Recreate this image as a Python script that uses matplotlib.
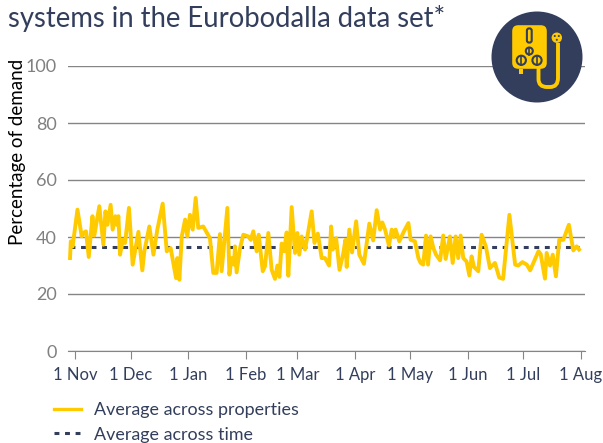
# Percentage of demand, Eurobodalla data set
import matplotlib
matplotlib.use('Agg')
import matplotlib.pyplot as plt
from matplotlib.patches import Circle, FancyBboxPatch, PathPatch, Rectangle
from matplotlib.path import Path

## days since 1 Nov and the value read at each turning point of the line
days = [-2.7, -2.3, -1.3, 1.3, 3.6, 4.5, 5.9, 7.4, 9.4, 10.4, 13.1, 15.3, 16.4, 17.5, 19.2, 20.3, 21.8, 22.5, 23.4, 24.3,
        25.7, 27, 29.1, 31.1, 34.2, 36.3, 37.4, 40.1, 42.3, 44.4, 47.3, 49.5, 51.6, 54.5, 55.2, 56.3, 57.6, 59.4, 60.6, 62,
        63.5, 65.1, 66.5, 69.2, 72.8, 74.6, 76.4, 78.2, 79.1, 82.2, 83.3, 84.5, 85.8, 86.3, 87.2, 89, 90.8, 93.5, 94.8, 96.2,
        98, 99.1, 101.3, 102.5, 104.3, 106.1, 107.9, 109.2, 110.3, 111.5, 112.8, 114.2, 115.1, 116.9, 118.7, 120, 121, 122.3, 124.1, 125.4,
        127.7, 129.2, 131, 133.1, 134.9, 137.1, 138.2, 139.1, 140.9, 142.7, 144.8, 145.9, 146.6, 148, 149.5, 151.7, 153.4, 155.9, 158.8, 160.9,
        162.8, 164.6, 165.8, 167.3, 169.4, 170.9, 172, 173, 175, 177.5, 179.9, 181.1, 183.4, 185.3, 186.5, 187.9, 189.4, 190.5, 191.9, 193.4,
        194.8, 197, 198.7, 200, 202.3, 203.8, 205.4, 206.8, 208.1, 209.5, 211.3, 212.8, 214, 215.3, 217.6, 219.4, 221.7, 223.9, 226.6, 228.9,
        231, 234.4, 237.5, 239.2, 241.4, 243.8, 245.6, 250.1, 251.3, 253.6, 254.5, 256.3, 257.8, 259.5, 261.3, 263.5, 266.5, 268.9, 270.7, 272]
values = [32.6, 38.5, 36.7, 49.6, 40.2, 41.4, 42, 33, 47.3, 40.5, 50.8, 37.3, 49, 44.3, 51.3, 42.6, 47.3, 44.3, 47.3, 33.8,
          39, 37.9, 50.2, 30.3, 41.8, 28.3, 35, 43.7, 33.8, 42.6, 51.7, 35, 36.1, 25.6, 32.6, 25, 40.2, 46.1, 40.2, 47.8,
          42.6, 53.7, 43.2, 43.7, 39.6, 27.4, 27.4, 41, 28, 50.2, 26.8, 32.6, 30.3, 36.7, 27.6, 36, 40.8, 40.2, 39, 42,
          35, 40.8, 28, 29.7, 41.4, 28.5, 25.3, 30, 26, 37.7, 35, 41.6, 26.4, 50.5, 34.4, 41.4, 33.8, 40.2, 35.6, 40.2,
          49, 37.9, 41.2, 32.6, 32.6, 30, 43.7, 35.6, 39.6, 28.5, 34.4, 39, 29.5, 42.6, 34.6, 45.5, 33.8, 30.6, 44.7, 38.8,
          49.4, 42.6, 45.1, 42.6, 37, 42.6, 40, 42.6, 38.5, 42, 44.9, 39, 38.5, 32.6, 30.9, 30.3, 40.5, 30.3, 40.2, 36.1,
          33.8, 31.8, 40.5, 32.3, 40.2, 30.9, 40.2, 32.6, 40.5, 32.6, 31.4, 26.5, 33.2, 29.5, 28, 40.8, 36.7, 29.1, 30.9, 25.8,
          25.3, 47.8, 30.3, 30, 31.2, 30.3, 28.3, 35, 34, 25.4, 34.4, 30, 33.8, 26.2, 39, 39, 44.3, 35.3, 36.7, 35.6]
time_average = 36.5

month_days = [0, 30, 61, 92, 120, 151, 181, 212, 242, 273]
month_labels = ['1 Nov', '1 Dec', '1 Jan', '1 Feb', '1 Mar', '1 Apr', '1 May', '1 Jun', '1 Jul', '1 Aug']
y_ticks = [0, 20, 40, 60, 80, 100]

NAVY = '#323E5C'
YELLOW = '#FFCB00'
GREY = '#858585'
W, H = 603, 443

plt.rcParams['font.family'] = ['Lato', 'DejaVu Sans']

fig = plt.figure(figsize=(W / 100, H / 100), dpi=100)
ax = fig.add_axes([68 / W, 1 - 351 / H, (585 - 68) / W, (351 - 66) / H])

ax.plot(days, values, color=YELLOW, lw=2.8, solid_joinstyle='round', label='Average across properties', zorder=3)
ax.plot([days[0], days[-1]], [time_average, time_average], color=NAVY, lw=2.2, ls=(0, (1.6, 1.85)),
        label='Average across time', zorder=2)

ax.set_xlim(-3.8, 275.2)
ax.set_ylim(0, 100)
ax.set_xticks(month_days)
ax.set_xticklabels(month_labels)
ax.set_yticks(y_ticks)
ax.grid(axis='y', color=GREY, lw=1)
ax.set_axisbelow(True)
for side in ['top', 'right', 'left']:
    ax.spines[side].set_visible(False)
ax.spines['bottom'].set_color(GREY)
ax.tick_params(axis='x', length=6, color=GREY, labelsize=12, labelcolor=NAVY, pad=5.5)
ax.tick_params(axis='y', length=0, labelsize=13, labelcolor='#808080', pad=8)
ax.set_ylabel('Percentage of demand', fontsize=13.5, color='black')
ax.yaxis.set_label_coords(-42 / 517, 0.70)

leg = ax.legend(loc='upper left', bbox_to_anchor=(-14 / 517, -0.18), frameon=False, fontsize=12.9, labelcolor=NAVY,
                handlelength=1.5, handletextpad=0.72, labelspacing=0.47, borderpad=0, borderaxespad=0)
leg.get_lines()[0].set_linewidth(2.4)

fig.text(8 / W, 1 - 19 / H, 'systems in the Eurobodalla data set*', fontsize=19.8, color=NAVY, va='center', ha='left')

## icon in the corner, drawn in pixel coordinates
icon = fig.add_axes([0, 0, 1, 1], zorder=5)
icon.set_xlim(0, W)
icon.set_ylim(H, 0)
icon.axis('off')
icon.add_patch(Circle((537, 57), 45.5, fc=NAVY, ec='none'))
icon.add_patch(FancyBboxPatch((515, 28), 29, 38, boxstyle='round,pad=2.8,rounding_size=6', fc=YELLOW, ec='none'))
icon.add_patch(Rectangle((519, 69), 3.5, 5, fc=YELLOW, ec='none'))
icon.add_patch(FancyBboxPatch((527.5, 29), 3.6, 13, boxstyle='round,pad=0.6,rounding_size=2.2', fc=YELLOW, ec=NAVY, lw=1.5))
for cx, cy, r in [(529.3, 51, 3.5), (521.3, 60.3, 4.6), (537, 60.3, 4.6)]:
    icon.add_patch(Circle((cx, cy), r, fc=YELLOW, ec=NAVY, lw=1.5))
    icon.plot([cx, cx], [cy - r, cy + r], color=NAVY, lw=1.2)
pipe = Path([(538.5, 68), (538.5, 79), (538.5, 87), (547, 87), (550, 87), (558, 87), (558, 78), (558, 43)],
            [Path.MOVETO, Path.LINETO, Path.CURVE3, Path.CURVE3, Path.LINETO, Path.CURVE3, Path.CURVE3, Path.LINETO])
icon.add_patch(PathPatch(pipe, fc='none', ec=YELLOW, lw=2.8))
icon.add_patch(Circle((556.8, 37.7), 5.2, fc=YELLOW, ec='none'))
for cx, cy in [(554.8, 36), (558.8, 36), (556.8, 39.8)]:
    icon.add_patch(Circle((cx, cy), 1.0, fc=NAVY, ec='none'))

fig.savefig('out.png', dpi=100)
